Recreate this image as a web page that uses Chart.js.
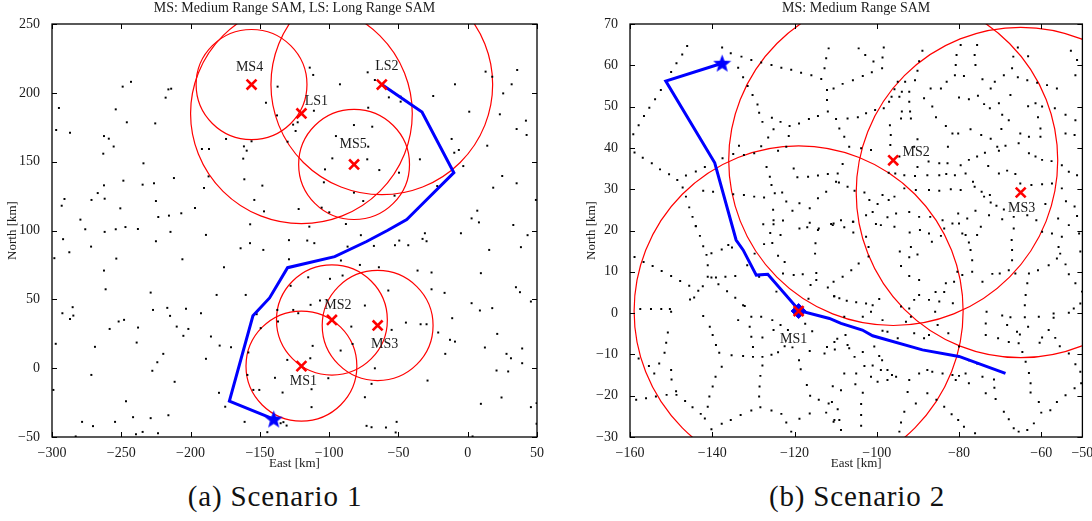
<!DOCTYPE html>
<html>
<head>
<meta charset="utf-8">
<script src="https://cdn.jsdelivr.net/npm/chart.js@4.4.0/dist/chart.umd.min.js"></script>
<style>
  body { margin: 0; background: #fff; width: 1092px; height: 521px; position: relative; overflow: hidden; }
  canvas { position: absolute; top: 0; }
  #chartA { left: 0; }
  #chartB { left: 576px; }
  .caption { position: absolute; top: 479px; width: 300px; text-align: center; line-height: 34px; letter-spacing: 0.85px;
             font-family: "Liberation Serif", "Times New Roman", serif; font-size: 29px; color: #111; }
</style>
</head>
<body>
<canvas id="chartA" width="560" height="471"></canvas>
<canvas id="chartB" width="516" height="471"></canvas>
<div class="caption" style="left:125px">(a) Scenario 1</div>
<div class="caption" style="left:707px">(b) Scenario 2</div>
<script>
// ---------- Scenario 1 ----------
const xTicksA = [-300, -250, -200, -150, -100, -50, 0, 50];
const yTicksA = [-50, 0, 50, 100, 150, 200, 250];
const siteNamesA = ["MS1", "MS2", "MS3", "MS4", "MS5", "LS1", "LS2"];
const siteXA = [-120, -98, -65, -156, -82, -120, -62];
const siteYA = [1.5, 35, 31, 206, 148, 185, 206];
const siteRangeA = [40, 40, 40, 40, 40, 80, 80];
const startA = [-140, -37];
const pathA = [[-140,-37],[-172,-24],[-155,38],[-143,51],[-130,73],[-96,81],[-73,92],[-58,100],
  [-44,108],[-36,116],[-10,142],[-33,186],[-62,206]];
const dotsA = [
  [-295,189],[-297,173],[-287,171],[-249,204.5],[-243,208],[-254,188],[-246,178.6],[-262.5,168.6],[-259,166.7],
  [-255.5,161],[-263,155.8],[-234,148.8],[-225.5,177.8],[-218,196.5],[-216,202.5],[-214,203],[-248.5,136.2],
  [-262.5,132.8],[-262,123.1],[-267,127.2],[-271.5,122.2],[-291,122.9],[-293,118],[-234.6,133.3],[-226.4,134.3],
  [-225,121.4],[-212,138.1],[-250.7,116.1],[-279.5,107.9],[-223.3,109.8],[-215.6,110.8],[-206.7,112.5],
  [-196.8,116.4],[-190.3,130.9],[-187,139.3],[-191.8,159.2],[-186.7,159.2],[-174.4,166.5],[-161.5,161.1],
  [-159.5,158],[-162,152.2],[-161.2,137.2],[-156,164.8],[-154,122.2],[-148.2,132.6],[-147,113.9],[-157,104.5],
  [-145.6,192.8],[-137.2,204.5],[-137.6,183.6],[-126,176.9],[-124.2,172.3],[-122.7,178.6],[-130,164.5],
  [-122,115.6],[-276,100.9],[-254,100.9],[-247,102.5],[-238,101.1],
  [-114,218.3],[-111.5,213],[-92.2,206.2],[-72.2,214.9],[-67,209.3],[-56.9,196.7],[-48.4,197.2],[-48.4,193.6],
  [-24.9,197.7],[-9.2,206.2],[12.9,215.4],[35.7,216.6],[17.7,211.7],[31.7,206.2],[25.6,199.6],[1.1,186.3],
  [23.2,184.4],[42,179.8],[35.3,173.7],[42.5,169.4],[-111,187],[-71.8,189.2],[-82.1,176.6],[-68.9,175.4],
  [-95.1,168.6],[-71.8,160.9],[-97.7,152.4],[-72.5,151.7],[-63.8,143.9],[-103,144.4],[-103.8,135],[-49.6,142],
  [-34.5,151.7],[-11.6,166.5],[-9.7,156.5],[-6.4,158.5],[-3.2,146.8],[14.1,161.6],[24.9,139.6],[18.4,131.1],
  [35.3,134.3],[-82.1,127.5],[-75.4,121.4],[-52.8,125.3],[-22,132.3],[-36.4,115.6],[-105.4,116.6],[-99.9,113.2],
  [-114.3,102.8],[-87.9,104.7],[6.9,114.4],[2.8,108.8],[8.1,105.9],[32.9,104],[49.2,122.2],
  [-262,99],[-214.5,99],[-225,92.2],[-188.9,96.8],[-292,93.7],[-287.5,84.2],[-298.3,79.9],[-271.8,88.3],
  [-253.6,79.6],[-262.5,70.9],[-261.3,57.3],[-205.9,79.1],[-163.9,87.1],[-157.1,90.8],[-147.5,85.9],
  [-175.9,73.3],[-160.2,53.2],[-181.2,53.2],[-228.8,54.9],[-227.1,42.3],[-216.8,43.8],[-214.8,38],[-203.3,43.1],
  [-192.5,39.9],[-292.5,39.9],[-285.1,44.3],[-284.6,38.2],[-287,35.7],[-251.9,33.9],[-248,35.1],[-237.9,29.5],
  [-258.4,28.5],[-210,30.2],[-201.6,28.5],[-205.2,23.5],[-185.3,23],[-297.3,17.7],[-269,15.5],[-238.9,18.6],
  [-179,16.4],[-170.8,15.2],[-219.7,10.4],[-224,4.3],[-227.6,-1.9],[-188.9,6.8],[-271.6,-4.9],[-211.5,-9.9],
  [-299,-15.8],[-246.6,-24],[-179.5,-17.9],[-175,-28],[-278.3,-39],[-270.4,-42.1],[-254.5,-39],[-241.5,-35.6],
  [-228.8,-36.3],[-216,-34.2],[-161,-39],[-239.4,-48],[-234.6,-46.3],[-223.5,-47.2],[-282.9,-49.6],
  [-144.6,-46.5],[-135,-40],[-130.7,-41.7],[-133,-39.2],[-139.1,-7],[-130.2,6],[-133.6,-17.7],[-158.3,11.4],
  [-159,-4.9],[-154.7,-15.8],[-150.4,-15.8],[-152.3,39.2],[-136.9,33.9],[-137.4,42.3],[-125.9,42.3],
  [-122.3,39.9],[-127.8,59.8],[-129,79.1],[-149.4,29.1],[-129,93],
  [-115.8,92.7],[-110.7,90.8],[-77.1,96.6],[-86.7,88.3],[-67.7,88.8],[-52.5,89.3],[-49.4,92.7],[-42.9,89.3],
  [-32.6,93.9],[-30.9,98],[-29.7,92.2],[-4.9,98],[15.5,85.9],[38.4,87.9],[43.2,96.6],[-91.5,78.2],[-77.8,75],
  [-64.1,73.3],[-99.4,64.9],[-90.3,67.3],[-115.1,66],[-36.2,70.9],[-26.1,69.5],[9.5,69],[34.8,58.8],[37.7,55.2],
  [-26.1,57.3],[-16.7,54.7],[-57.3,56.4],[-106.6,49.1],[-74.2,45.5],[-113.4,46],[2.8,47.2],[8.8,41.9],[17.7,43.6],
  [45.6,48.4],[-44.6,33.1],[-34,31.9],[-29.7,31.9],[-21.3,25.9],[-11.2,36.3],[-54.9,27.8],[-84,30.2],[-83.1,17.6],
  [-111.9,16.2],[-91.7,12.8],[-12.8,20.6],[-9.2,19.3],[21.3,24.9],[12.4,15],[28,10.4],[31.2,7.2],[39.3,14.3],
  [39.3,3.6],[-16.2,10.4],[-113.6,7.2],[-67,-0.1],[-100.6,-7.3],[20.8,-1.7],[29.2,-2.4],[-29,-9],[-69.4,-11.4],
  [-112.7,-15.3],[-74.2,-21.1],[9.5,-25.9],[24.4,-21.3],[45.6,-28.3],[49.7,-25.4],[-112.7,-28.3],[-73,-41.9],
  [-69.4,-42.9],[-59,-43.1],[-51.3,-39],[-52,-46.7],[3.5,-49.6],[49.7,-40.4]
];

// ---------- Scenario 2 ----------
const xTicksB = [-160, -140, -120, -100, -80, -60, -50];
const yTicksB = [-30, -20, -10, 0, 10, 20, 30, 40, 50, 60, 70];
const siteNamesB = ["MS1", "MS2", "MS3"];
const siteXB = [-119, -96, -65];
const siteYB = [0.5, 37, 29.2];
const siteRangeB = [40, 40, 40];
const startB = [-137.6, 60.5];
const goalB = [-119, 0.5];
const pathB = [[-137.6,60.5],[-151.3,56.2],[-139.4,36.4],[-134.2,17.7],[-132.5,15.3],[-129.3,9.2],[-126.5,9.4],
  [-118.8,0.6],[-111.5,-1.3],[-108.7,-2.5],[-103.5,-4.1],[-101,-5.5],[-88.9,-8.9],[-80,-10.5],[-68.7,-14.6]];
const dotsB = [
  [-146.1,64.7],[-147.3,62.6],[-148.7,60.5],[-150,58.4],[-152.5,54],[-153.9,51.8],[-155.3,49.7],[-156.6,47.7],
  [-157.9,45.5],[-159.2,43.3],[-158.9,38.9],[-156.9,37.6],[-154.7,36.3],[-152.7,34.8],[-150.5,33.6],[-148.5,32.2],
  [-147.2,30.4],[-146.4,28.2],[-145.6,25.6],[-144.8,23.3],[-144,21.1],[-146.4,33.3],[-144,34.3],[-141.8,35.4],
  [-142.2,29.6],[-139.8,29.4],[-137.6,64.3],[-135.5,62.9],[-132.9,62.1],[-130.5,61.3],[-128.1,60.7],[-125.6,60.1],
  [-123.2,59.4],[-120.8,58.9],[-118.4,58.2],[-115.9,57.6],[-113.5,56.7],[-111.7,64.1],[-112.3,61.7],[-112.7,59.3],
  [-112.1,54],[-112.1,51.6],[-111.9,48.8],[-133.7,59.4],[-132.5,57.1],[-131.4,55],[-130.2,52.8],[-129,50.5],
  [-128.6,48.5],[-127.8,46.3],[-125.5,47.3],[-123.4,46.3],[-121.2,45.3],[-118.9,45.9],[-116.5,47],[-114.3,47.7],
  [-125.1,44.5],[-126.4,42.5],[-128.1,40.4],[-129.8,38.7],[-132.3,38.3],[-134.9,38.5],[-121.4,42.9],[-122,40.3],
  [-124,39.3],[-133.5,40.5],[-126.8,35.4],[-126,33],[-125.6,31],[-124.8,29],[-123,29.2],[-122,27],[-120.5,24.8],
  [-118.8,26.6],[-116.3,25.4],[-114.3,27.8],[-120.2,35],[-119.3,32.9],[-116.7,33],[-114.3,33.3],[-111.9,33.7],
  [-109.2,31.6],[-112.3,29.4],[-134.9,28.8],[-132.3,28.6],[-129.8,28.2],[-127.4,28],[-125.2,25],[-125.1,22.5],
  [-122.8,22.4],[-118.8,20.5],[-116.3,21.9],[-114.1,20.5],[-111.1,21.6],[-137.5,37.5],
  [-104.4,64.1],[-102.8,62.5],[-100.8,60.9],[-98.6,61.9],[-98.3,64.3],[-98.7,59.3],[-101.2,58.3],[-103.4,57.4],
  [-105.8,56.4],[-108.3,55.5],[-110.5,54.4],[-93.1,56],[-94.9,56],[-90.7,56.4],[-88.9,63.5],[-89.7,61],[-90.1,58.7],
  [-93.9,53.6],[-92.1,53.6],[-94.5,52.4],[-95.7,54.2],[-96.4,52.4],[-86.9,54.4],[-84.4,54.4],[-83,56],[-81,57.6],
  [-78.8,57.4],[-79.6,64.9],[-80.6,62.5],[-80.8,60.1],[-75.6,64.9],[-76.2,62.5],[-76,60.1],[-74.3,56.6],
  [-72.3,54.4],[-71.3,56],[-69.1,57.6],[-67.1,59.3],[-66.8,62.1],[-65.7,64.3],[-63.2,62.2],[-65.7,57.1],
  [-63.4,56.4],[-61,55.8],[-58.6,55.2],[-56.2,54.4],[-52.8,63.5],[-51.3,61.3],[-51.7,57.6],[-97,51.2],[-98.3,49.6],
  [-92.1,51.2],[-91.9,48.8],[-93.9,48.8],[-94.1,47.1],[-91.7,47.1],[-100.4,49.2],[-102.6,48.4],[-104.6,47.4],
  [-107.1,47.1],[-109.9,47],[-109.1,44.7],[-107.9,42.7],[-88.5,52],[-86.5,50],[-85.6,47.4],[-83.2,45.3],
  [-81.6,43.5],[-80,52.2],[-77.6,51.8],[-75.4,52.6],[-73.9,50.6],[-72.5,49.6],[-70.3,50.8],[-67.5,52.8],[-69.5,48],
  [-67.9,46.7],[-63.2,50.1],[-61.4,50.8],[-59.8,50],[-56.7,49.6],[-54.1,48],[-51.7,46.7],[-90.1,42.1],[-90.9,40.3],
  [-96.7,40.7],[-96.6,43.1],[-96.8,45.5],[-82.7,40.3],[-80.2,43.5],[-77.2,44.5],[-74.6,43.1],[-72.3,42.2],
  [-70.7,40.3],[-68.7,40.5],[-69.7,44.6],[-65.1,43.5],[-63,42.7],[-60.8,47.4],[-60.2,44.7],[-60.2,42.7],
  [-54.1,43.5],[-51.9,43.1],[-106.7,40.3],[-103.8,39.9],[-101.4,39.5],[-94.5,37.9],[-90.1,35.4],[-87.4,36.7],
  [-84.8,36.3],[-82.8,36.3],[-79.6,35.8],[-77.6,37.1],[-75.6,37.9],[-73.7,38.8],[-72.9,35.6],[-70.3,39.3],
  [-65.5,41.1],[-63,38.7],[-61.4,37.9],[-59.8,37.1],[-57.5,36.8],[-55,35.8],[-53.3,34.2],[-51.3,33.4],[-108.3,36.1],
  [-109.5,33.8],[-109.9,31.8],[-97.1,34],[-95.5,33.8],[-93.3,33.4],[-90.7,33.2],[-87.7,33.4],[-84.8,33.4],
  [-83.1,33.7],[-81,33.4],[-78.4,33.8],[-76.6,31.8],[-76.2,30.6],[-74.5,29.4],[-72.5,28.6],[-70.3,33.8],
  [-68.3,34.5],[-66.3,33.7],[-65.1,31.4],[-62.4,31],[-59.8,31.2],[-57.4,31.4],[-55,30.2],[-54,27.1],[-51.9,25.8],
  [-51.3,23.5],[-107.1,30.6],[-105.4,29.6],[-103,29.2],[-101.8,27.4],[-99.8,26.4],[-98.6,28.6],[-97.1,27.4],
  [-95.7,28.2],[-93.3,30.2],[-90.5,29.8],[-87.3,29.8],[-84.8,29.6],[-82,30],[-79.6,29.8],[-73.9,28.2],[-72.3,26.8],
  [-70.9,26],[-69.1,25.1],[-66.7,23.3],[-63.4,23.7],[-61.2,22.5],[-59,26.4],[-55.9,22.9],[-110.5,21.7],
  [-108.7,22.5],[-105.8,22.1],[-102.6,23.7],[-101,24.5],[-97.4,23.2],[-95.3,24.1],[-92.1,24.5],[-89.7,23.3],
  [-87,23.3],[-84,22.5],[-80.2,24.1],[-78,22.9],[-76,24.8],[-72.7,23.7],[-69.5,22.7],
  [-144,21],[-143,18.7],[-142.2,16.2],[-141.4,14.1],[-140.2,14.5],[-141.1,11.6],[-141.1,8.8],[-140.2,8.6],
  [-139.1,8.6],[-136.8,8.8],[-134.4,9],[-136.1,16.5],[-135.2,15.9],[-137.7,15.4],[-138.5,7],[-136.4,5.3],
  [-134.4,3.7],[-132.5,1.9],[-132.1,1.7],[-130.5,-0.9],[-130.9,-3.3],[-130.5,-5.7],[-130.1,-8.2],[-127.8,-10.6],
  [-127.8,-12.7],[-128.3,-15.2],[-128.5,-17.8],[-128.6,-20.2],[-128.3,-22.8],[-143.4,5.4],[-142.3,6.5],
  [-145.6,6.6],[-147.8,7.8],[-150,9],[-152.3,10.2],[-154.5,11.4],[-156.7,12.4],[-158.9,13.6],[-144.4,3.8],
  [-145.4,3.3],[-157.5,1],[-154.9,1],[-152.4,1],[-150.3,1],[-150,0.3],[-150.8,-4.7],[-151.2,-7.2],[-151.6,-9.6],
  [-152.9,-12.2],[-154.1,-14.6],[-155.4,-12.8],[-157.9,-11],[-150,-13.8],[-149.9,-16.1],[-148.8,-18.9],
  [-148.7,-19.8],[-146.6,-21.3],[-144.8,-22.8],[-142.8,-24.4],[-141.8,-25.5],[-140.2,-28.1],[-158.5,-21],
  [-156.1,-20.6],[-153.7,-20.2],[-151.1,-19.8],[-142.2,-0.7],[-140.6,-3.3],[-139.9,-5.3],[-139.1,-7.7],
  [-138.3,-9.6],[-137.7,-13],[-139.2,-15.4],[-139.9,-17.8],[-140.7,-20.2],[-141.1,-22.7],[-135.3,-10.2],
  [-132.5,-10.4],[-130.1,-10.6],[-125.6,-10.1],[-124,-9.5],[-122.4,-8],[-120.5,-8.3],[-133.7,-1.7],[-128.1,-0.9],
  [-125.4,-1.7],[-123.4,-2.9],[-121.6,-4.1],[-118.9,-11.4],[-118.5,-13.6],[-117,-17.4],[-116.2,-20],[-114.1,-21],
  [-111.7,-21.9],[-112.3,-24.1],[-110.3,-25.9],[-116.3,-24.3],[-118.8,-25.6],[-120.8,-28.7],[-122,-26.5],
  [-125.6,-23.6],[-123.2,-24.4],[-130.5,-23.6],[-133.1,-24.7],[-135.5,-25.9],[-137.7,-26.8],[-124.4,5.2],
  [-122.8,9.6],[-120.2,9.2],[-118,9.4],[-116.1,6.8],[-114.7,8],[-114.7,9.7],[-115,14.4],[-114.9,16.9],[-114.3,20.1],
  [-116.9,20.8],[-123.4,18.9],[-125.9,19.4],[-127.4,16.7],[-127.6,21.5],[-125.1,21.5],[-124,13.9],[-122.4,12.4],
  [-128.6,8.8],[-131.5,11.6],[-129.7,14.4],[-125.4,17],[-116.6,3.5],[-111.9,6.2],[-110.4,4.1],[-110.2,-8.8],
  [-112.1,-8.2],[-109.6,-6.2],[-115.7,-4.4],[-117.4,-2.6],[-116.3,-9.2],[-112.7,-9.8],[-125.1,-4.1],[-127.8,-5.9],
  [-110.7,21.3],[-105.7,22.1],[-99,21.3],[-95.7,20.9],[-105.7,19.5],[-102.6,18.5],[-102,16],[-102,13.7],
  [-100.2,21.6],[-107.9,20.8],[-104.4,12],[-106.2,10.4],[-108.3,8.8],[-110.5,7.6],[-110.3,4.1],[-109.1,3.6],
  [-107.3,3],[-105,2.6],[-102.6,2.3],[-101,1.9],[-99.4,3.4],[-101.4,0.3],[-103.4,-0.9],[-107.9,-0.9],[-107.6,-5.3],
  [-110.3,-7],[-107.1,-7.7],[-106.7,-8.5],[-105.4,-10.6],[-103.4,-9.4],[-99.4,-10.4],[-100.6,-8.1],[-103,-12.8],
  [-101,-12.7],[-98.7,-11.4],[-97.4,-13.8],[-96.3,-15],[-101.4,-15.4],[-105,-14.6],[-107.9,-14.6],[-105.2,-17.2],
  [-103.4,-19.3],[-108.7,-18.7],[-110.7,-17.7],[-110.9,-21.5],[-109.5,-23.3],[-109.1,-25.9],[-110.5,-26.3],
  [-103.8,-22],[-103.8,-24.7],[-103.8,-27.3],[-108.7,-28.3],[-99.8,-16.6],[-97.4,-16.2],[-95.3,-15.4],
  [-94.1,-26.5],[-94.5,-28.7],[-93.3,-23.9],[-92.1,-16.2],[-90.5,-21.9],[-92.5,-19.1],[-89.7,-14.6],[-87.7,-13.8],
  [-84,-14.6],[-86.5,-14.2],[-87.7,-19.4],[-85.5,-21],[-83.6,-22.7],[-81.8,-24.5],[-80.2,-25.9],[-78.8,-27.5],
  [-76.1,-29.1],[-81.6,-15],[-80,-15.2],[-73.5,-19.4],[-71.1,-20.8],[-69.1,-23.9],[-67.9,-25.7],[-66.7,-27.9],
  [-65.5,-28.7],[-63.4,-28.3],[-61.8,-26.7],[-60,-24.1],[-57.8,-23.5],[-56.2,-21.5],[-54.1,-19.9],[-51.9,-18.2],
  [-60.6,-21.5],[-62.6,-19.2],[-62.6,-17],[-63,-14.5],[-63.8,-11.8],[-64.6,-9.4],[-60.4,-7.2],[-59.8,-5.9],
  [-58.2,-4.1],[-56.6,-6],[-55.5,-8],[-53.3,-9.8],[-51.7,-12.4],[-50.5,-14.2],[-50.3,-17],[-65.5,-7.3],[-65.2,-5.2],
  [-63.2,-3.3],[-60.6,-0.9],[-57,-1.1],[-57,-0.1],[-53.3,0.1],[-52.1,1.1],[-50.5,2.3],[-50.1,5.2],[-51.7,7.2],
  [-53.3,9.4],[-54.1,11.8],[-56.2,13.2],[-58.2,11.6],[-60.8,10.4],[-63,9.6],[-63.4,7.2],[-63.8,4.4],[-64,1.9],
  [-64,-1],[-67.5,-1],[-69.5,-0.6],[-68.3,-2.9],[-67.9,-7],[-65.9,-4.5],[-70.5,-6.1],[-73.3,0.3],[-73.5,-2.5],
  [-73.5,-5.3],[-74.3,7.6],[-71.9,9.5],[-70.1,9.6],[-67.9,10.4],[-66.3,9.6],[-67.1,12.8],[-67.1,15.3],[-67.2,17.7],
  [-66.7,20.5],[-59.8,19.7],[-57.4,19.3],[-55.8,16],[-55,18.5],[-55.4,14.4],[-50.5,14.9],[-53.3,21.3],[-50.8,19.3],
  [-74.7,20.9],[-75.6,18.9],[-77.6,17.1],[-77.2,15.3],[-76.8,12.8],[-76.8,10],[-79.2,9.2],[-81.2,7.6],[-83.2,7.2],
  [-83.6,5.1],[-85.7,5.1],[-87.3,3.2],[-89.7,4.4],[-90.9,3.2],[-92.1,1.1],[-94.1,1.6],[-91.7,-0.9],[-84.8,2.8],
  [-81.5,2.4],[-85.8,0.3],[-82.6,-4.9],[-80,-8.1],[-85.2,-2.9],[-87.3,-5.3],[-88.5,-6.1],[-90.9,-4.9],[-92.9,-2.1],
  [-94.9,-6.1],[-97.4,-4.5],[-98.6,-4.3],[-98.6,-1.7],[-78.4,-14.6],[-77.6,-17],[-74.3,-15.4],[-71.5,-16.1],
  [-71.4,-18.1],[-75.6,-12.2],[-77.6,-11.4],[-80.8,-16.2],[-89.7,8],[-92.1,9],[-94.1,11.4],[-94.4,14.9],
  [-92.1,13.5],[-90.1,14.2],[-91.7,16],[-92,19.5],[-89.5,20.1],[-87.3,19.3],[-86.6,17.3],[-83.6,20.5],[-81.6,21.7],
  [-80,21.7],[-79.2,19.3],[-78.4,18.9],[-84.4,18.7],[-80.4,10],[-99,-13.8]
];

// ---------- shared look ----------
const serif = '"Liberation Serif", "Times New Roman", serif';
const ink = '#1a1a1a';
const fmt = v => (v < 0 ? '\u2212' + Math.abs(v) : String(v));

// label offsets (pixels) of the site names relative to their markers
const labelOffsetA = { MS1: [2, 15], MS2: [6, -15], MS3: [7, 19], MS4: [-2, -17], MS5: [-1, -20], LS1: [15, -12], LS2: [5, -18] };
const labelOffsetB = { MS1: [-5, 28], MS2: [23, -8], MS3: [1, 16] };

function makeStar(color, size) {
  const c = document.createElement('canvas');
  c.width = size; c.height = size;
  const g = c.getContext('2d');
  const r = size / 2, ri = r * 0.42;
  g.beginPath();
  for (let i = 0; i < 10; i++) {
    const rr = i % 2 === 0 ? r : ri;
    const a = -Math.PI / 2 + i * Math.PI / 5;
    g.lineTo(r + rr * Math.cos(a), r * 1.08 + rr * Math.sin(a));
  }
  g.closePath();
  g.fillStyle = color;
  g.fill();
  return c;
}
const star = makeStar('#0000ff', 19);

// circles, box, inward ticks and site names, all placed through the chart scales
function mapDecor(names, xs, ys, rs, offsets) {
  return {
    id: 'mapDecor',
    beforeDatasetsDraw(chart) {
      const { ctx, chartArea: a, scales: { x, y } } = chart;
      ctx.save();
      ctx.beginPath();
      ctx.rect(a.left, a.top, a.right - a.left, a.bottom - a.top);
      ctx.clip();
      ctx.strokeStyle = '#ff0000';
      ctx.lineWidth = 1.2;
      names.forEach((n, i) => {
        const cx = x.getPixelForValue(xs[i]), cy = y.getPixelForValue(ys[i]);
        const rx = Math.abs(x.getPixelForValue(xs[i] + rs[i]) - cx);
        const ry = Math.abs(y.getPixelForValue(ys[i] + rs[i]) - cy);
        ctx.beginPath();
        ctx.ellipse(cx, cy, rx, ry, 0, 0, Math.PI * 2);
        ctx.stroke();
      });
      ctx.restore();
    },
    afterDatasetsDraw(chart) {
      const { ctx, chartArea: a, scales: { x, y } } = chart;
      ctx.save();
      ctx.font = '14px ' + serif;
      ctx.fillStyle = ink;
      ctx.textAlign = 'center';
      ctx.textBaseline = 'middle';
      names.forEach((n, i) => {
        const o = offsets[n];
        ctx.fillText(n, x.getPixelForValue(xs[i]) + o[0], y.getPixelForValue(ys[i]) + o[1]);
      });
      ctx.strokeStyle = '#000';
      ctx.lineWidth = 1.3;
      ctx.strokeRect(a.left, a.top, a.right - a.left, a.bottom - a.top);
      ctx.lineWidth = 1;
      ctx.beginPath();
      x.ticks.forEach(t => {
        const p = Math.round(x.getPixelForValue(t.value)) + 0.5;
        ctx.moveTo(p, a.bottom); ctx.lineTo(p, a.bottom - 5);
        ctx.moveTo(p, a.top); ctx.lineTo(p, a.top + 5);
      });
      y.ticks.forEach(t => {
        const p = Math.round(y.getPixelForValue(t.value)) + 0.5;
        ctx.moveTo(a.left, p); ctx.lineTo(a.left + 5, p);
        ctx.moveTo(a.right, p); ctx.lineTo(a.right - 5, p);
      });
      ctx.stroke();
      ctx.restore();
    }
  };
}

function axis(min, max, list, fitSize, horizontal, titleText, titlePad) {
  return {
    type: 'linear', min, max,
    afterBuildTicks: s => { s.ticks = list.map(v => ({ value: v })); },
    afterFit: s => {
      if (horizontal) { s.height = fitSize; s.paddingLeft = 0; s.paddingRight = 0; }
      else { s.width = fitSize; s.paddingTop = 0; s.paddingBottom = 0; }
    },
    grid: { display: false },
    border: { display: false },
    ticks: { font: { family: serif, size: 14 }, color: ink, padding: horizontal ? 0 : 4,
             maxRotation: 0, autoSkip: false, callback: v => fmt(v) },
    title: { display: true, text: titleText, font: { family: serif, size: 13 }, color: ink, padding: titlePad }
  };
}

function buildChart(id, opt) {
  const toPts = arr => arr.map(p => ({ x: p[0], y: p[1] }));
  const datasets = [
    { label: 'sites', data: opt.names.map((n, i) => ({ x: opt.xs[i], y: opt.ys[i] })),
      pointStyle: 'crossRot', pointRadius: 7, borderColor: '#ff0000', borderWidth: 2.6, order: 0 },
    { label: 'start', data: [{ x: opt.start[0], y: opt.start[1] }], pointStyle: star, order: 1 },
    { label: 'path', data: toPts(opt.path), showLine: true, borderColor: '#0000ff', borderWidth: 3,
      pointRadius: 0, order: 3 },
    { label: 'dots', data: toPts(opt.dots), pointStyle: 'rect', pointRadius: 1.4, backgroundColor: '#000',
      borderWidth: 0, order: 4 }
  ];
  if (opt.goal) {
    datasets.push({ label: 'goal', data: [{ x: opt.goal[0], y: opt.goal[1] }], pointStyle: 'rectRot',
      pointRadius: 7.5, backgroundColor: '#0000ff', borderColor: '#0000ff', borderWidth: 1, order: 2 });
  }
  return new Chart(document.getElementById(id), {
    type: 'scatter',
    data: { datasets },
    plugins: [mapDecor(opt.names, opt.xs, opt.ys, opt.rs, opt.offsets)],
    options: {
      responsive: false,
      animation: false,
      events: [],
      layout: { padding: { left: 0, right: opt.padRight, top: 0, bottom: 0 } },
      plugins: {
        legend: { display: false },
        tooltip: { enabled: false },
        title: { display: true, text: opt.title, fullSize: false, color: ink,
                 font: { family: serif, size: 14, weight: 'normal', lineHeight: 1.2 },
                 padding: { top: 0, bottom: 7.2 } }
      },
      scales: {
        x: axis(opt.xMin, opt.xMax, opt.xTicks, 34, true, 'East [km]', { top: 0, bottom: 0 }),
        y: axis(opt.yMin, opt.yMax, opt.yTicks, opt.yWidth, false, 'North [km]', { top: opt.yTitlePad, bottom: 0 })
      }
    }
  });
}

buildChart('chartA', {
  names: siteNamesA, xs: siteXA, ys: siteYA, rs: siteRangeA, offsets: labelOffsetA,
  start: startA, path: pathA, dots: dotsA,
  xMin: -300, xMax: 50, yMin: -50, yMax: 250, xTicks: xTicksA, yTicks: yTicksA,
  yWidth: 52, yTitlePad: 5, padRight: 23,
  title: 'MS: Medium Range SAM, LS: Long Range SAM'
});

buildChart('chartB', {
  names: siteNamesB, xs: siteXB, ys: siteYB, rs: siteRangeB, offsets: labelOffsetB,
  start: startB, goal: goalB, path: pathB, dots: dotsB,
  xMin: -160, xMax: -50, yMin: -30, yMax: 70, xTicks: xTicksB, yTicks: yTicksB,
  yWidth: 54, yTitlePad: 8, padRight: 8,
  title: 'MS: Medium Range SAM'
});
</script>
</body>
</html>
